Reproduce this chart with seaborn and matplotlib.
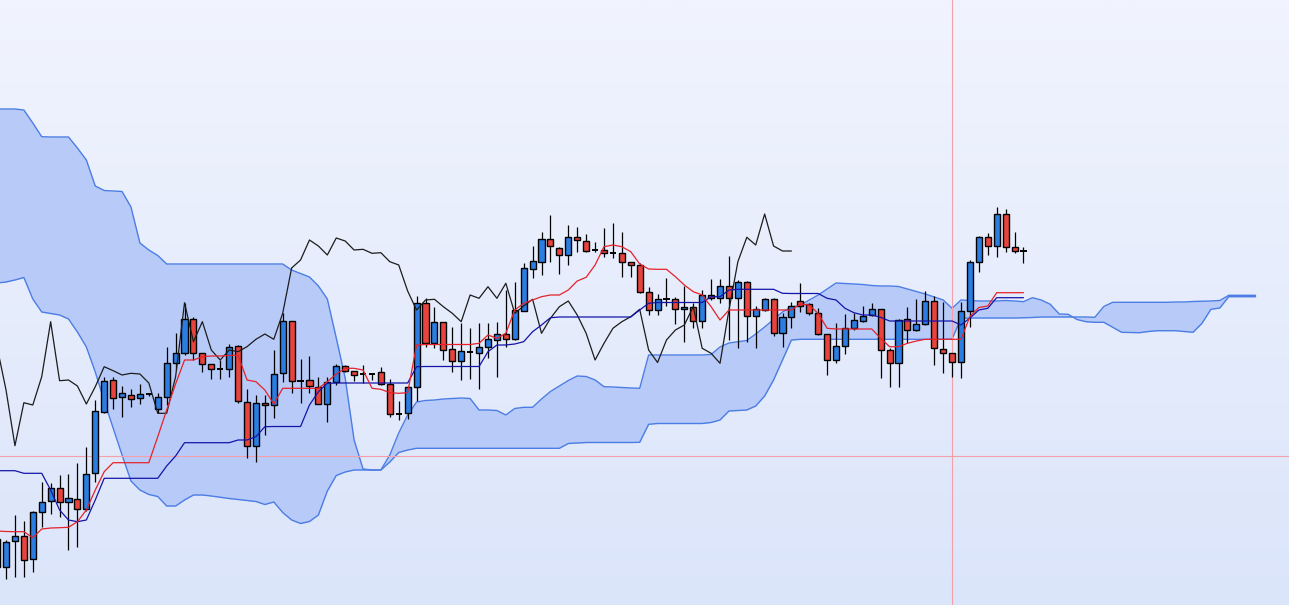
import numpy as np
import matplotlib
matplotlib.use("Agg")
import matplotlib.pyplot as plt
import seaborn as sns
from matplotlib.colors import LinearSegmentedColormap

# Candles (price points), one per period
open_ = [38, 37.7, 64, 69.3, 46, 93, 104, 117, 103, 106,
         96, 131.7, 193.3, 225, 207.7, 210.3, 206.7, 210.7, 195.7, 208,
         241.7, 251.7, 285.7, 251.7, 240.7, 235.7, 235.7, 259.3, 203.3, 159,
         202.3, 199.7, 231.7, 284, 224.3, 225, 218.3, 201, 222.7, 239,
         233.7, 231.3, 231, 232.7, 220.7, 191, 191.7, 217.7, 302.3, 261.7,
         282.7, 255.7, 244, 252.7, 251.7, 257.7, 265, 270.7, 265.7, 294.3,
         335.7, 342.7, 365.7, 357.3, 350, 367.7, 364.3, 355, 355, 352.3,
         352.3, 342.7, 340, 312.7, 295, 305.7, 305.7, 296, 298.3, 284,
         310.3, 306.7, 319.3, 306.7, 322.7, 289.3, 295, 306, 271.7, 287.7,
         303.7, 300.7, 291.7, 270.7, 245, 259, 276.7, 284, 289.7, 295.7,
         255, 241.7, 285.7, 275, 280.7, 304, 255.7, 251.7, 243.3, 294,
         342.7, 367.7, 359.3, 391, 358.3, 354]
close_ = [66, 63.3, 69.3, 45, 93, 103, 117, 103, 107, 96,
          131, 193.7, 224.3, 206.7, 211.7, 205.7, 210.7, 210.7, 207.7, 241.7,
          251.7, 285.7, 251.7, 240.7, 235.7, 235.7, 258.3, 204, 159, 202.3,
          199.7, 230.7, 284, 224, 224.3, 219, 200.7, 222.7, 239, 234,
          230, 231.3, 231, 221, 190.7, 191, 218.3, 302.3, 261.7, 283.3,
          255, 244, 254, 252.7, 257.7, 265.7, 270.7, 265.7, 295, 336.7,
          344, 365.7, 359, 349.7, 367.7, 365, 354.3, 355, 351.7, 352.3,
          342.7, 340, 312.7, 295, 306, 305.7, 296, 298.3, 284, 310,
          306.7, 319.3, 306.7, 322.7, 289.3, 296, 306, 271.7, 287.7, 299,
          299, 291.7, 270.7, 245, 259, 276.7, 285, 289, 295.7, 255,
          241.7, 285, 275, 280.7, 304, 256.7, 251.7, 243.3, 294, 342.7,
          367.7, 359.3, 391, 358.3, 354, 354]
high_ = [68, 65, 90, 84, 94, 123, 122, 130, 131, 142,
         158, 205, 227.7, 228.3, 219.3, 216, 220.7, 212, 212, 258.3,
         271.7, 302.3, 287.7, 252, 241, 245, 261, 260, 216, 210,
         210, 255, 291.7, 284, 246, 249, 228.3, 227.7, 241, 240,
         234, 240, 231, 237.7, 225.7, 204.3, 219, 309, 306.7, 298.3,
         283, 278.3, 281.7, 276.7, 282, 281.7, 283.3, 315, 323, 342.3,
         359, 373.3, 390, 358, 380, 378.3, 370.7, 363.3, 376.7, 381.7,
         372.7, 343, 342, 318.3, 311, 327.3, 308.3, 319, 301.7, 315,
         325.7, 325.7, 349, 325, 324, 299, 307, 307, 291.7, 303.3,
         322.3, 302, 296.7, 271, 282.3, 291, 291.7, 299, 301.7, 296,
         257.3, 285.7, 297.7, 305.7, 314, 309, 303.3, 252, 303.3, 345,
         369.3, 371.7, 397.7, 396, 372.7, 358.3]
low_ = [35, 25.7, 28, 28.3, 33.3, 78, 91, 88, 55, 58,
        94, 123, 192.3, 195.7, 188.3, 197.7, 201, 209, 191.7, 200,
        235, 250, 245, 233.3, 225.7, 225.7, 228.3, 201.7, 146.7, 142.7,
        170, 186.7, 223.3, 212.3, 202.3, 212.3, 200.7, 183.3, 220, 233,
        224.3, 221.7, 225, 220, 188.3, 185, 185.7, 204.3, 258.3, 256.7,
        245, 232.7, 225, 225.7, 215.7, 246.7, 228.3, 258.3, 265, 294,
        326.7, 330, 342.7, 331, 340, 352.7, 353, 352.7, 347.7, 346.7,
        328.3, 327.7, 312, 290, 290, 299, 280.7, 263.3, 276.7, 276.7,
        305, 302, 265, 256.7, 263.3, 257.3, 294, 269, 258.3, 276.7,
        293.3, 290, 270, 230, 241.7, 251, 275, 283, 289, 226.7,
        217.7, 218.3, 261.7, 274, 280, 240, 232.3, 228.3, 226.7, 278.3,
        333.3, 350, 348.3, 353.3, 351.7, 341.7]

# Ichimoku lines
tenkan = [74, 73.5, 73.3, 73.3, 67.3, 76, 77, 77.3, 77.7, 83.3,
          95, 115, 133.3, 142.3, 142.3, 142.3, 142.3, 142.3, 168.3, 195,
          221, 245, 245, 248.3, 249, 249, 249.5, 250, 225, 223.3,
          215, 201, 216.7, 216.7, 216.7, 216.7, 216.7, 223.3, 231, 236.7,
          236.7, 235, 216.7, 215.7, 212.3, 211.7, 212.3, 260, 260.5, 260.5,
          260.5, 260.5, 260.5, 260.5, 261.7, 270, 266.7, 271.7, 295, 301.7,
          305, 308.3, 310, 310, 315, 324, 327.7, 340, 358.3, 360,
          358.3, 353.3, 341, 336, 335.7, 335.7, 328.3, 320, 313.3, 310,
          298.3, 285, 295, 295, 295, 295, 295, 295, 295, 295,
          301, 300, 291.5, 276.7, 276, 276, 276, 276, 276, 266.7,
          258.3, 258.3, 261.7, 264, 265.7, 265.7, 265.7, 265.7, 265.7, 288.5,
          297.5, 299, 312.3, 312.3, 312.3, 312.3]
kijun = [134.3, 134.3, 134.3, 131.7, 131.7, 131.7, 115, 95, 85, 83.3,
         85, 105, 126.7, 126.7, 126.7, 126.7, 126.7, 126.7, 126.7, 139,
         149, 162.3, 162.3, 162.3, 162.3, 162.3, 162.3, 165, 165, 168.3,
         178.3, 178.5, 178.5, 178.5, 178.5, 200, 213.3, 221.7, 222, 222,
         222, 222, 222, 222, 222, 222, 222, 238.3, 238.5, 238.5,
         238.5, 238.5, 238.5, 238.5, 238.5, 253.3, 260, 260, 261, 263.3,
         273.3, 280, 287.3, 288, 288, 288, 288, 288, 288, 288,
         288, 288, 295, 301.7, 302.5, 302.5, 302.5, 302.5, 302.5, 302.5,
         308.3, 308.3, 315, 315.7, 315.7, 315.7, 315.7, 315.7, 311.7, 311.5,
         311.5, 311.5, 311.5, 306.7, 305, 296.7, 292.3, 290, 290, 287.7,
         284, 284, 284, 284, 284, 284, 284, 284, 280, 287,
         295, 296.7, 307.3, 307.3, 307.3, 307.3]
chikou = [258, 215, 159.3, 202.3, 200, 228.3, 283.3, 224.3, 225, 219,
          201, 218.3, 238.3, 234.3, 230, 231.7, 231, 222, 191.7, 191.7,
          228.3, 302.3, 263.3, 283.3, 255, 245, 255, 253.3, 258.3, 265.7,
          271, 265.7, 291.7, 337, 345, 365, 359, 350, 367, 364,
          355, 355.7, 351.7, 352.3, 343.3, 340, 314, 295, 305, 305.7,
          298.3, 291.7, 283.3, 310, 306.7, 318.3, 306.7, 321.7, 291.7, 299,
          305.7, 271.7, 286.7, 298.3, 304, 290, 271.7, 245, 261.7, 276.7,
          283.3, 288.3, 295.7, 255, 242.5, 265, 275, 280, 298.3, 256.7,
          251.7, 241.7, 295, 343.3, 367.7, 360, 391, 359, 354, 354]
span_1 = [496, 496, 496, 495, 482, 468.3, 468, 468, 468, 457,
          445, 419, 414.5, 414, 413.5, 398, 362, 355, 349.5, 341,
          341, 341, 341, 341, 341, 341, 341, 341, 341, 341,
          341, 341, 341, 335, 331.5, 328, 319, 306, 267, 227,
          165, 136, 135, 135, 150, 172, 190, 203, 204.5, 205,
          206, 206.5, 207, 206.5, 195, 195, 194.5, 190, 196.5, 197.7,
          197.7, 206, 213.5, 219, 224.5, 229, 228.5, 225, 218.3, 218,
          217.5, 217, 216.7, 250, 250, 250, 250, 250, 250, 250,
          250.5, 258, 262, 263.3, 264.5, 271, 278, 285.5, 293, 298,
          299.7, 305, 310, 316, 322, 321.5, 321, 320.5, 319.5, 319,
          319, 318.5, 316, 313.5, 311, 308, 305, 296.7, 305, 304.5,
          304, 304, 304, 304.5, 304, 303.3, 307.3, 305, 300.7, 291,
          290.7, 285.5, 283.3, 282.7, 282.7, 277.7, 272.7, 272.5, 272.3, 273.5,
          274.3, 274.3, 274.3, 273.5, 272.7, 281.7, 295.7, 297, 308.3, 308.3,
          308.3, 308.3]
span_2 = [322, 323, 325, 327.5, 306, 293, 291.5, 290, 286, 273,
          258, 233, 204, 177, 150, 124, 115, 110.5, 108.5, 99,
          99, 105, 110, 110, 109, 107.7, 106.5, 105.5, 104.5, 103.5,
          100.5, 103, 92.5, 85, 81.5, 83.5, 90, 114, 129.5, 133,
          135, 135, 135, 135, 143, 152.5, 155, 156.7, 156.7, 156.7,
          156.7, 156.7, 156.7, 156.7, 156.7, 156.7, 156.7, 156.7, 156.7, 156.7,
          156.7, 156.7, 156.7, 156.7, 161.5, 162, 162.5, 162.5, 162.5, 162.5,
          162.5, 162.5, 162.7, 180.7, 181.5, 181.5, 181.5, 181.5, 181.5, 181.5,
          182.5, 185, 194, 194.5, 195, 199, 209, 225, 245, 265,
          265.7, 265.7, 265.7, 265.7, 265.7, 265.7, 265.7, 265.7, 265.7, 265.7,
          265.7, 265.7, 265.7, 265.7, 265.7, 265.7, 265.7, 266, 286.7, 287,
          287, 287, 287, 287, 287, 287.2, 287.5, 288, 288, 288,
          288, 288, 288, 287.7, 298.5, 302.7, 302.7, 302.7, 302.7, 302.7,
          302.7, 302.7, 303, 303, 303.5, 303.7, 304, 304.5, 309.7, 309.7,
          309.7, 309.7]

# crosshair position (period index, price)
cross_period = 107
cross_price = 149

sns.set_theme(style="white")

fig = plt.figure(figsize=(12.89, 6.05), dpi=100)
ax = fig.add_axes([0, 0, 1, 1])
ax.set_axis_off()

x_lo, x_hi = 0.325, 144.75
y_lo, y_hi = 0, 605

# soft vertical gradient background
grad = np.linspace(0, 1, 256).reshape(-1, 1)
bg_cmap = LinearSegmentedColormap.from_list("bg", ["#f1f4fe", "#dbe5fa"])
ax.imshow(grad, extent=[x_lo, x_hi, y_lo, y_hi], aspect="auto",
          cmap=bg_cmap, origin="upper", zorder=0)

# cloud
kc = np.arange(len(span_1))
ax.fill_between(kc, span_1, span_2, color="#b8cbf8", lw=0, zorder=1)
sns.lineplot(x=kc, y=span_1, ax=ax, color="#4c7de4", linewidth=1, zorder=2)
sns.lineplot(x=kc, y=span_2, ax=ax, color="#4c7de4", linewidth=1, zorder=2)

# crosshair
ax.axvline(cross_period, color="#f3a0ab", lw=0.8, zorder=3)
ax.axhline(cross_price, color="#f3a0ab", lw=0.8, zorder=3)

# candles
o = np.array(open_)
c = np.array(close_)
k = np.arange(len(o))
body_lo = np.minimum(o, c)
body_h = np.abs(c - o)
doji = body_h == 0
colors = np.where(c > o, "#2b7de2", "#e8443d")
ax.vlines(k, low_, high_, color="black", lw=0.9, zorder=4)
ax.bar(k[~doji], body_h[~doji], bottom=body_lo[~doji], width=0.68,
       color=colors[~doji], edgecolor="black", linewidth=1.0, zorder=5)
ax.hlines(c[doji], k[doji] - 0.36, k[doji] + 0.36, color="black", lw=1.4, zorder=5)

# ichimoku lines
sns.lineplot(x=np.arange(len(chikou)), y=chikou, ax=ax, color="#1c1c1c", linewidth=0.9, zorder=6)
sns.lineplot(x=k, y=kijun, ax=ax, color="#1414a8", linewidth=0.9, zorder=6)
sns.lineplot(x=k, y=tenkan, ax=ax, color="#e5222a", linewidth=0.9, zorder=6)

ax.set_xlim(x_lo, x_hi)
ax.set_ylim(y_lo, y_hi)

fig.savefig("out.png", dpi=100)
